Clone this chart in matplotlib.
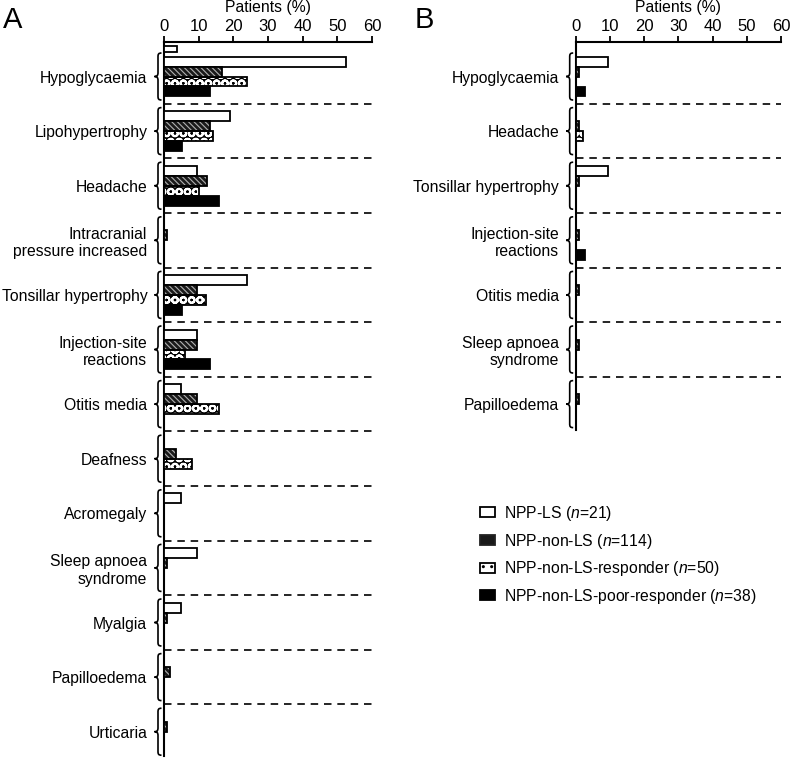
import matplotlib
matplotlib.use("Agg")
import matplotlib.pyplot as plt
import numpy as np
from matplotlib.path import Path
from matplotlib.patches import PathPatch, Patch

plt.rcParams['font.family'] = ['Liberation Sans', 'DejaVu Sans']
plt.rcParams['mathtext.fontset'] = 'custom'
plt.rcParams['mathtext.rm'] = 'Liberation Sans'
plt.rcParams['mathtext.it'] = 'Liberation Sans:italic'
plt.rcParams['hatch.linewidth'] = 1.0

# ---------------------------------------------------------
# data (% of patients)
# ---------------------------------------------------------
groups = ["NPP-LS ($n$=21)", "NPP-non-LS ($n$=114)",
          "NPP-non-LS-responder ($n$=50)", "NPP-non-LS-poor-responder ($n$=38)"]

categories_a = ["Hypoglycaemia", "Lipohypertrophy", "Headache",
                "Intracranial\npressure increased", "Tonsillar hypertrophy",
                "Injection-site\nreactions", "Otitis media", "Deafness",
                "Acromegaly", "Sleep apnoea\nsyndrome", "Myalgia",
                "Papilloedema", "Urticaria"]
ls_a    = [52.4, 19.0, 9.5, 0, 23.8, 9.5, 4.8, 0, 4.8, 9.5, 4.8, 0, 0]
nonls_a = [16.7, 13.2, 12.3, 0.9, 9.6, 9.6, 9.6, 3.5, 0, 0.9, 0.9, 1.8, 0.9]
resp_a  = [24.0, 14.0, 10.0, 0, 12.0, 6.0, 16.0, 8.0, 0, 0, 0, 0, 0]
poor_a  = [13.2, 5.3, 15.8, 0, 5.3, 13.2, 0, 0, 0, 0, 0, 0, 0]
stub_a  = 3.8   # small open bar above the first group

categories_b = ["Hypoglycaemia", "Headache", "Tonsillar hypertrophy",
                "Injection-site\nreactions", "Otitis media",
                "Sleep apnoea\nsyndrome", "Papilloedema"]
ls_b    = [9.5, 0, 9.5, 0, 0, 0, 0]
nonls_b = [0.9, 0.9, 0.9, 0.9, 0.9, 0.9, 0.9]
resp_b  = [0, 2.0, 0, 0, 0, 0, 0]
poor_b  = [2.6, 0, 0, 2.6, 0, 0, 0]

xticks = [0, 10, 20, 30, 40, 50, 60]

W, H = 793, 759
fig = plt.figure(figsize=(W / 100, H / 100), dpi=100)

ax_a = fig.add_axes([164 / W, 3 / H, 208 / W, 714 / H])
ax_b = fig.add_axes([575.7 / W, 329 / H, 205.3 / W, 388 / H])

bh = 0.183
offs = np.array([-1.5, -0.5, 0.5, 1.5]) * bh
FS = 11.3
HATCH = '\\\\\\\\\\\\'


def set_hlw(p, lw):
    if hasattr(p, "set_hatch_linewidth"):
        p.set_hatch_linewidth(lw)


def draw_bars(ax, y, vals, kind):
    y = np.asarray(y, float)
    vals = np.asarray(vals, float)
    m = vals > 0
    y, vals = y[m], vals[m]
    if len(vals) == 0:
        return
    if kind == 0:
        ax.barh(y, vals, height=bh, color='white', edgecolor='black', lw=1.3, zorder=3)
    elif kind == 1:
        bars = ax.barh(y, vals, height=bh, color='#1a1a1a', edgecolor='#b0b0b0',
                       hatch=HATCH, lw=0, zorder=3)
        for p in bars:
            set_hlw(p, 0.8)
        ax.barh(y, vals, height=bh, fill=False, edgecolor='black', lw=1.3, zorder=4)
    elif kind == 2:
        bars = ax.barh(y, vals, height=bh, color='black', edgecolor='white',
                       hatch='OO', lw=0, zorder=3)
        for p in bars:
            set_hlw(p, 1.5)
        ax.barh(y, vals, height=bh, fill=False, edgecolor='black', lw=1.3, zorder=4)
    else:
        ax.barh(y, vals, height=bh, color='black', edgecolor='black', lw=1.3, zorder=3)


def draw_brace(ax, y0, y1, width_px):
    f = 1.0 / width_px
    ym = 0.5 * (y0 + y1)
    d = 0.07
    verts = [(-2.5 * f, y0), (-5.5 * f, y0), (-6 * f, y0 + 0.02), (-6 * f, y0 + d),
             (-6 * f, ym - d),
             (-6 * f, ym - 0.02), (-7 * f, ym), (-9.5 * f, ym),
             (-7 * f, ym), (-6 * f, ym + 0.02), (-6 * f, ym + d),
             (-6 * f, y1 - d),
             (-6 * f, y1 - 0.02), (-5.5 * f, y1), (-2.5 * f, y1)]
    codes = [Path.MOVETO, Path.CURVE4, Path.CURVE4, Path.CURVE4, Path.LINETO,
             Path.CURVE4, Path.CURVE4, Path.CURVE4,
             Path.CURVE4, Path.CURVE4, Path.CURVE4, Path.LINETO,
             Path.CURVE4, Path.CURVE4, Path.CURVE4]
    pp = PathPatch(Path(verts, codes), transform=ax.get_yaxis_transform(),
                   fill=False, lw=1.2, edgecolor='black', clip_on=False)
    ax.add_patch(pp)


def panel(ax, cats, series, width_px, ylim_bottom, letter, letter_x):
    n = len(cats)
    yc = np.arange(n)
    for k, vals in enumerate(series):
        draw_bars(ax, yc + offs[k], vals, k)
    # dashed separators
    for i in range(n - 1):
        ax.plot([0, 60], [i + 0.5, i + 0.5], ls=(0, (4.5, 3.5)), color='black', lw=1.2,
                zorder=2, clip_on=False)
    for i in range(n):
        draw_brace(ax, i - 0.43, i + 0.43, width_px)

    ax.set_xlim(0, 60)
    ax.set_ylim(ylim_bottom, -0.632)
    ax.xaxis.tick_top()
    ax.xaxis.set_label_position('top')
    ax.set_xticks(xticks)
    ax.set_xlabel("Patients (%)", fontsize=FS, labelpad=5)
    ax.tick_params(axis='x', direction='out', length=4, width=1.3, labelsize=12, pad=2)
    ax.set_yticks(yc)
    ax.set_yticklabels(cats, fontsize=FS, ha='right', multialignment='right')
    ax.tick_params(axis='y', length=0, pad=12)
    for s in ['right', 'bottom']:
        ax.spines[s].set_visible(False)
    for s in ['left', 'top']:
        ax.spines[s].set_linewidth(1.5)
    fig.text(letter_x / W, 1 - 20 / H, letter, fontsize=21, va='center', ha='left')


panel(ax_a, categories_a, [ls_a, nonls_a, resp_a, poor_a], 208, 12.445, "A", 3)
# stray open bar at the top of panel A
ax_a.barh([-0.504], [stub_a], height=0.11, color='white', edgecolor='black', lw=1.3, zorder=3)

panel(ax_b, categories_b, [ls_b, nonls_b, resp_b, poor_b], 205.3, 6.474, "B", 415)

handles = [Patch(facecolor='white', edgecolor='black', lw=1.3),
           Patch(facecolor='#1a1a1a', edgecolor='#222222', lw=1.3),
           Patch(facecolor='white', edgecolor='black', hatch='..', lw=1.3),
           Patch(facecolor='black', edgecolor='black', lw=1.3)]
fig.legend(handles, groups, loc='upper left', bbox_to_anchor=(480 / W, 1 - 504 / H),
           frameon=False, fontsize=FS, handlelength=0.95, handleheight=0.6,
           handletextpad=0.55, labelspacing=0.55, borderpad=0, borderaxespad=0)

fig.savefig("out.png", dpi=100)
